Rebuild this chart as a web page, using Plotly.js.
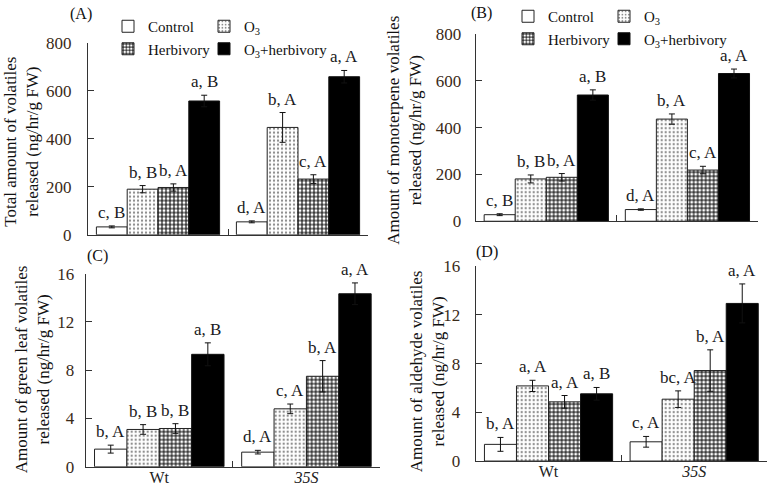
<!DOCTYPE html>
<html>
<head>
<meta charset="utf-8">
<script src="https://cdn.plot.ly/plotly-3.0.1.min.js"></script>
<style>html,body{margin:0;padding:0;background:#fff;}#chart{width:771px;height:486px;}</style>
</head>
<body>
<div id="chart"></div>
<script>
// ---------- data ----------
const categories = ["Wt", "35S"];
const categoryText = ["Wt", "<i>35S</i>"];
const seriesNames = ["Control", "O<sub>3</sub>", "Herbivory", "O<sub>3</sub>+herbivory"];

// panel A: total volatiles  [Wt, 35S] per series
const A_control = [33, 54],   A_control_err = [4, 4];
const A_o3 = [190, 447],      A_o3_err = [15, 62];
const A_herb = [197, 232],    A_herb_err = [15, 18];
const A_o3herb = [557, 658],  A_o3herb_err = [24, 26];
const A_letters = [["c, B", "d, A"], ["b, B", "b, A"], ["b, A", "c, A"], ["a, B", "a, A"]];

// panel B: monoterpene volatiles
const B_control = [28, 50],   B_control_err = [4, 3];
const B_o3 = [181, 437],      B_o3_err = [17, 22];
const B_herb = [188, 219],    B_herb_err = [16, 16];
const B_o3herb = [540, 632],  B_o3herb_err = [22, 19];
const B_letters = [["c, B", "d, A"], ["b, B", "b, A"], ["b, A", "c, A"], ["a, B", "a, A"]];

// panel C: green leaf volatiles
const C_control = [1.46, 1.21], C_control_err = [0.33, 0.15];
const C_o3 = [3.09, 4.8],       C_o3_err = [0.4, 0.4];
const C_herb = [3.17, 7.5],     C_herb_err = [0.4, 1.3];
const C_o3herb = [9.32, 14.34], C_o3herb_err = [0.95, 0.9];
const C_letters = [["b, A", "d, A"], ["b, B", "c, A"], ["b, B", "b, A"], ["a, B", "a, A"]];

// panel D: aldehyde volatiles
const D_control = [1.37, 1.58], D_control_err = [0.57, 0.44];
const D_o3 = [6.17, 5.08],      D_o3_err = [0.46, 0.68];
const D_herb = [4.86, 7.43],    D_herb_err = [0.52, 1.7];
const D_o3herb = [5.52, 12.94], D_o3herb_err = [0.52, 1.6];
const D_letters = [["b, A", "c, A"], ["a, A", "bc, A"], ["a, A", "b, A"], ["a, B", "a, A"]];

const yTitles = [
  "Total amount of volatiles<br>released (ng/hr/g FW)",
  "Amount of monoterpene volatiles<br>released (ng/hr/g FW)",
  "Amount of green leaf volatiles<br>released (ng/hr/g FW)",
  "Amount of aldehyde volatiles<br>released (ng/hr/g FW)"
];
const panelLabels = ["(A)", "(B)", "(C)", "(D)"];
const yRanges = [[0, 800], [0, 800], [0, 16], [0, 16]];
const yDtick = [200, 200, 4, 4];

// ---------- layout geometry (pixels) ----------
const W = 771, H = 486;
const SERIF = "Liberation Serif";
const panels = [
  {vals: [A_control, A_o3, A_herb, A_o3herb], errs: [A_control_err, A_o3_err, A_herb_err, A_o3herb_err], letters: A_letters,
   x0: 88, x1: 368, yTop: 41.7, yBot: 234.3, titleX: 22, titleY: 141, labX: 81, labY: 13, standoff: 12, showX: false},
  {vals: [B_control, B_o3, B_herb, B_o3herb], errs: [B_control_err, B_o3_err, B_herb_err, B_o3herb_err], letters: B_letters,
   x0: 475.7, x1: 758, yTop: 33.3, yBot: 220.7, titleX: 405, titleY: 130, labX: 481, labY: 12, standoff: 10, showX: false},
  {vals: [C_control, C_o3, C_herb, C_o3herb], errs: [C_control_err, C_o3_err, C_herb_err, C_o3herb_err], letters: C_letters,
   x0: 85.7, x1: 380, yTop: 273.3, yBot: 466.7, titleX: 32, titleY: 369, labX: 97, labY: 256, standoff: 7, showX: true},
  {vals: [D_control, D_o3, D_herb, D_o3herb], errs: [D_control_err, D_o3_err, D_herb_err, D_o3herb_err], letters: D_letters,
   x0: 475.7, x1: 767, yTop: 265.7, yBot: 461, titleX: 427, titleY: 371, labX: 487, labY: 252, standoff: 11, showX: true}
];

const markers = [
  {color: "white", line: {color: "#222", width: 1}},
  {color: "white", line: {color: "#222", width: 1}, pattern: {shape: ".", size: 4, solidity: 0.25, fgcolor: "#8a8a8a", bgcolor: "white"}},
  {color: "white", line: {color: "#222", width: 1}, pattern: {shape: "+", size: 4, solidity: 0.45, fgcolor: "#000", bgcolor: "white"}},
  {color: "black", line: {color: "#111", width: 1}}
];

const bargap = 0.12;
const traces = [];
const annotations = [];
const layout = {
  width: W, height: H,
  margin: {l: 0, r: 0, t: 0, b: 0},
  paper_bgcolor: "white", plot_bgcolor: "white",
  barmode: "group", bargap: bargap, bargroupgap: 0,
  font: {family: SERIF, color: "#111", size: 16},
  showlegend: true
};

const legendNames = ["legend", "legend2", "legend3", "legend4"];
const legendColumnOf = [0, 1, 0, 1]; // control & herbivory left column, O3 series right column

panels.forEach((p, k) => {
  const n = k + 1;
  const xa = "xaxis" + (n === 1 ? "" : n), ya = "yaxis" + (n === 1 ? "" : n);
  const xr = "x" + (n === 1 ? "" : n), yr = "y" + (n === 1 ? "" : n);
  layout[xa] = {
    domain: [p.x0 / W, p.x1 / W], anchor: yr, type: "category",
    range: [-0.5, 1.5], tickvals: categories, ticktext: categoryText,
    showticklabels: p.showX, ticks: "inside", tickson: "boundaries", ticklen: 6,
    tickcolor: "#333", showline: true, linecolor: "#333", linewidth: 1,
    showgrid: false, zeroline: false, fixedrange: true, ticklabelstandoff: -4,
    tickfont: {family: SERIF, size: 16, color: "#222"}
  };
  layout[ya] = {
    domain: [1 - p.yBot / H, 1 - p.yTop / H], anchor: xr,
    range: yRanges[k], dtick: yDtick[k], ticks: "inside", ticklen: 6,
    tickcolor: "#333", showline: true, linecolor: "#333", linewidth: 1,
    showgrid: false, zeroline: false, fixedrange: true, ticklabelstandoff: p.standoff,
    tickfont: {family: SERIF, size: 17, color: "#3a2a18"}
  };
  for (let s = 0; s < 4; s++) {
    const t = {
      type: "bar", x: categories, y: p.vals[s], name: seriesNames[s],
      xaxis: xr, yaxis: yr, marker: markers[s],
      error_y: {type: "data", array: p.errs[s], visible: true, color: "#111", thickness: 1, width: 3},
      showlegend: k < 2, hoverinfo: "skip"
    };
    if (k < 2) t.legend = legendNames[k * 2 + legendColumnOf[s]];
    traces.push(t);
    // significance letters above each bar (+ error)
    const gw = 1 - bargap;
    const off = -gw / 2 + (s + 0.5) * gw / 4;
    for (let c = 0; c < categories.length; c++) {
      annotations.push({
        xref: xr, yref: yr, x: c + off, y: p.vals[s][c] + p.errs[s][c],
        text: p.letters[s][c], showarrow: false, yanchor: "bottom", xanchor: "center", yshift: 2,
        font: {family: SERIF, size: 17, color: "#1a1a22"}
      });
    }
  }
  // y-axis title
  annotations.push({
    xref: "paper", yref: "paper", x: p.titleX / W, y: 1 - p.titleY / H,
    text: yTitles[k], showarrow: false, textangle: -90, xanchor: "center", yanchor: "middle",
    font: {family: SERIF, size: 17, color: "#111"}
  });
  // panel label
  annotations.push({
    xref: "paper", yref: "paper", x: p.labX / W, y: 1 - p.labY / H,
    text: panelLabels[k], showarrow: false, xanchor: "center", yanchor: "middle",
    font: {family: SERIF, size: 16, color: "#111"}
  });
});

function legendAt(px, py) {
  return {x: px / W, y: 1 - py / H, xanchor: "left", yanchor: "top", orientation: "v",
          bgcolor: "rgba(0,0,0,0)", borderwidth: 0, tracegroupgap: 0, itemwidth: 30,
          font: {family: SERIF, size: 15, color: "#111"}, itemclick: false, itemdoubleclick: false};
}
layout.legend = legendAt(108, 10);
layout.legend2 = legendAt(204, 10);
layout.legend3 = legendAt(508, -1);
layout.legend4 = legendAt(604, -1);
layout.annotations = annotations;

Plotly.newPlot("chart", traces, layout, {displayModeBar: false, staticPlot: true});
</script>
</body>
</html>
